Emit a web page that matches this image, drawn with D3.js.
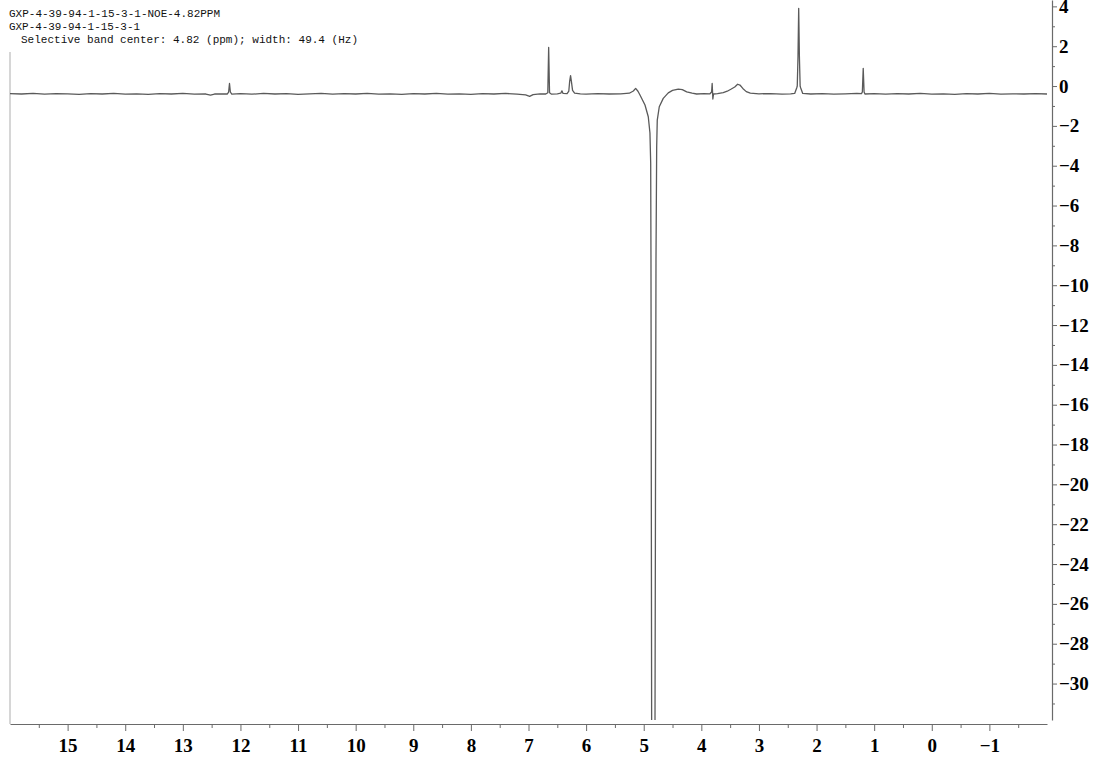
<!DOCTYPE html>
<html>
<head>
<meta charset="utf-8">
<script src="https://cdn.jsdelivr.net/npm/d3@7"></script>
<style>
  html, body { margin: 0; padding: 0; background: #fff; }
  svg { display: block; }
</style>
</head>
<body>
<svg id="chart" width="1097" height="761"></svg>
<script>
// ---- header texts ----
const titleLines = [
  "GXP-4-39-94-1-15-3-1-NOE-4.82PPM",
  "GXP-4-39-94-1-15-3-1",
  "Selective band center: 4.82 (ppm); width: 49.4 (Hz)"
];

// ---- axis tick values ----
const xMajorTicks = [15, 14, 13, 12, 11, 10, 9, 8, 7, 6, 5, 4, 3, 2, 1, 0, -1];
const xMinorTicks = [15.5, 14.5, 13.5, 12.5, 11.5, 10.5, 9.5, 8.5, 7.5, 6.5, 5.5, 4.5, 3.5, 2.5, 1.5, 0.5, -0.5, -1.5];
const yMajorTicks = [4, 2, 0, -2, -4, -6, -8, -10, -12, -14, -16, -18, -20, -22, -24, -26, -28, -30];
const yMinorTicks = [3, 1, -1, -3, -5, -7, -9, -11, -13, -15, -17, -19, -21, -23, -25, -27, -29, -31];

// ---- spectrum trace (ppm, intensity) ----
const ppm = [
  16.00, 15.80, 15.60, 15.40, 15.20, 15.00, 14.80, 14.60, 14.40, 14.20,
  14.00, 13.80, 13.60, 13.40, 13.20, 13.00, 12.80, 12.60, 12.52, 12.45,
  12.30, 12.23, 12.205, 12.19, 12.175, 12.15, 12.00, 11.80, 11.60, 11.40,
  11.20, 11.00, 10.80, 10.60, 10.40, 10.20, 10.00, 9.80, 9.60, 9.40,
  9.20, 9.00, 8.80, 8.60, 8.40, 8.20, 8.00, 7.80, 7.60, 7.40,
  7.20, 7.05, 6.98, 6.92, 6.80, 6.70, 6.665, 6.65, 6.635, 6.60,
  6.50, 6.44, 6.42, 6.40, 6.33, 6.30, 6.285, 6.27, 6.255, 6.235,
  6.20, 6.10, 6.00, 5.80, 5.60, 5.40, 5.25, 5.18, 5.14, 5.10,
  5.065, 4.978, 4.921, 4.892, 4.879, 4.874, 4.862, 4.834, 4.805, 4.787,
  4.775, 4.765, 4.730, 4.661, 4.574, 4.50, 4.40, 4.33, 4.254, 4.16,
  4.081, 3.95, 3.85, 3.822, 3.812, 3.800, 3.788, 3.72, 3.62, 3.55,
  3.48, 3.42, 3.37, 3.33, 3.28, 3.22, 3.15, 3.00, 2.80, 2.60,
  2.45, 2.38, 2.345, 2.335, 2.322, 2.31, 2.298, 2.285, 2.275, 2.24,
  2.10, 1.90, 1.70, 1.50, 1.30, 1.22, 1.205, 1.19, 1.175, 1.16,
  1.00, 0.80, 0.60, 0.40, 0.20, 0.00, -0.20, -0.40, -0.60, -0.80,
  -1.00, -1.20, -1.40, -1.60, -1.80, -2.00
];
const intensity = [
  -0.38, -0.40, -0.37, -0.41, -0.38, -0.39, -0.42, -0.38, -0.40, -0.37,
  -0.41, -0.39, -0.42, -0.38, -0.40, -0.37, -0.41, -0.40, -0.46, -0.40,
  -0.39, -0.40, -0.30, 0.13, -0.30, -0.41, -0.38, -0.41, -0.37, -0.40,
  -0.38, -0.42, -0.39, -0.37, -0.41, -0.38, -0.40, -0.37, -0.41, -0.39,
  -0.42, -0.38, -0.40, -0.37, -0.41, -0.39, -0.42, -0.38, -0.40, -0.37,
  -0.41, -0.44, -0.52, -0.43, -0.39, -0.40, -0.34, 1.94, -0.34, -0.41,
  -0.39, -0.36, -0.24, -0.37, -0.38, -0.25, 0.25, 0.52, 0.22, -0.22,
  -0.36, -0.39, -0.41, -0.38, -0.40, -0.39, -0.36, -0.25, -0.12, -0.26,
  -0.45, -0.95, -1.54, -2.36, -3.87, -8.73, -33.0, -40.0, -33.0, -8.73,
  -3.05, -1.71, -1.04, -0.62, -0.34, -0.22, -0.15, -0.18, -0.29, -0.36,
  -0.40, -0.38, -0.39, -0.30, 0.13, -0.65, -0.40, -0.38, -0.33, -0.26,
  -0.15, -0.05, 0.09, 0.05, -0.12, -0.28, -0.36, -0.39, -0.38, -0.41,
  -0.39, -0.37, -0.10, 0.00, 1.50, 3.90, 1.50, 0.00, -0.10, -0.37,
  -0.40, -0.38, -0.41, -0.39, -0.37, -0.38, -0.30, 0.89, -0.30, -0.40,
  -0.38, -0.41, -0.38, -0.40, -0.37, -0.41, -0.39, -0.42, -0.38, -0.40,
  -0.37, -0.41, -0.39, -0.40, -0.38, -0.40
];

// ---- layout ----
const svg = d3.select("#chart");
const plotLeft = 10, plotRight = 1047, plotTop = 0, plotBottom = 720;
const xAxisY = 724, yAxisX = 1052;

const x = d3.scaleLinear().domain([16, -2]).range([plotLeft, plotRight]);
const y = d3.scaleLinear().domain([-31.83, 4.32]).range([plotBottom, plotTop]);

const fmt = d => (d < 0 ? "\u2212" + Math.abs(d) : String(d));
const labelFont = "'Liberation Serif', 'DejaVu Serif', serif";

// header
const header = svg.append("g").attr("font-family", "'Liberation Mono', 'DejaVu Sans Mono', monospace")
  .attr("font-size", 11).attr("fill", "#111");
header.append("text").attr("x", 9).attr("y", 17).attr("textLength", 211).attr("lengthAdjust", "spacingAndGlyphs").text(titleLines[0]);
header.append("text").attr("x", 9).attr("y", 30).attr("textLength", 131).attr("lengthAdjust", "spacingAndGlyphs").text(titleLines[1]);
header.append("text").attr("x", 21).attr("y", 43).attr("textLength", 337).attr("lengthAdjust", "spacingAndGlyphs").text(titleLines[2]);

// left border line
svg.append("line").attr("x1", 10).attr("x2", 10).attr("y1", 52).attr("y2", xAxisY)
  .attr("stroke", "#c8c8c8").attr("stroke-width", 1.5);

// clip
svg.append("defs").append("clipPath").attr("id", "plotclip")
  .append("rect").attr("x", plotLeft).attr("y", plotTop)
  .attr("width", plotRight - plotLeft).attr("height", plotBottom - plotTop);

// spectrum
const pts = ppm.map((p, i) => [p, intensity[i]]);
const line = d3.line().x(d => x(d[0])).y(d => y(d[1]));
svg.append("path").datum(pts)
  .attr("clip-path", "url(#plotclip)")
  .attr("fill", "none").attr("stroke", "#5a5a5a").attr("stroke-width", 1.3)
  .attr("stroke-linejoin", "round")
  .attr("d", line);

// x axis
const gx = svg.append("g").attr("transform", `translate(0,${xAxisY})`);
gx.call(d3.axisBottom(x).tickValues(xMajorTicks).tickSize(7).tickSizeOuter(0).tickPadding(8).tickFormat(fmt));
gx.append("g").call(d3.axisBottom(x).tickValues(xMinorTicks).tickSize(4).tickSizeOuter(0).tickFormat(""))
  .select(".domain").remove();
gx.selectAll(".domain").attr("stroke", "#6a6a6a").attr("stroke-width", 1.2);
gx.selectAll(".tick line").attr("stroke", "#6a6a6a");
gx.selectAll(".tick text").attr("font-family", labelFont).attr("font-size", 19).attr("fill", "#000")
  .attr("font-weight", "bold");

// y axis (right)
const gy = svg.append("g").attr("transform", `translate(${yAxisX},0)`);
gy.call(d3.axisRight(y).tickValues(yMajorTicks).tickSize(5).tickSizeOuter(0).tickPadding(2).tickFormat(fmt));
gy.append("g").call(d3.axisRight(y).tickValues(yMinorTicks).tickSize(3).tickSizeOuter(0).tickFormat(""))
  .select(".domain").remove();
gy.selectAll(".domain").attr("stroke", "#6a6a6a").attr("stroke-width", 1.2);
gy.selectAll(".tick line").attr("stroke", "#6a6a6a");
gy.selectAll(".tick text").attr("font-family", labelFont).attr("font-size", 19).attr("fill", "#000")
  .attr("font-weight", "bold");
</script>
</body>
</html>
